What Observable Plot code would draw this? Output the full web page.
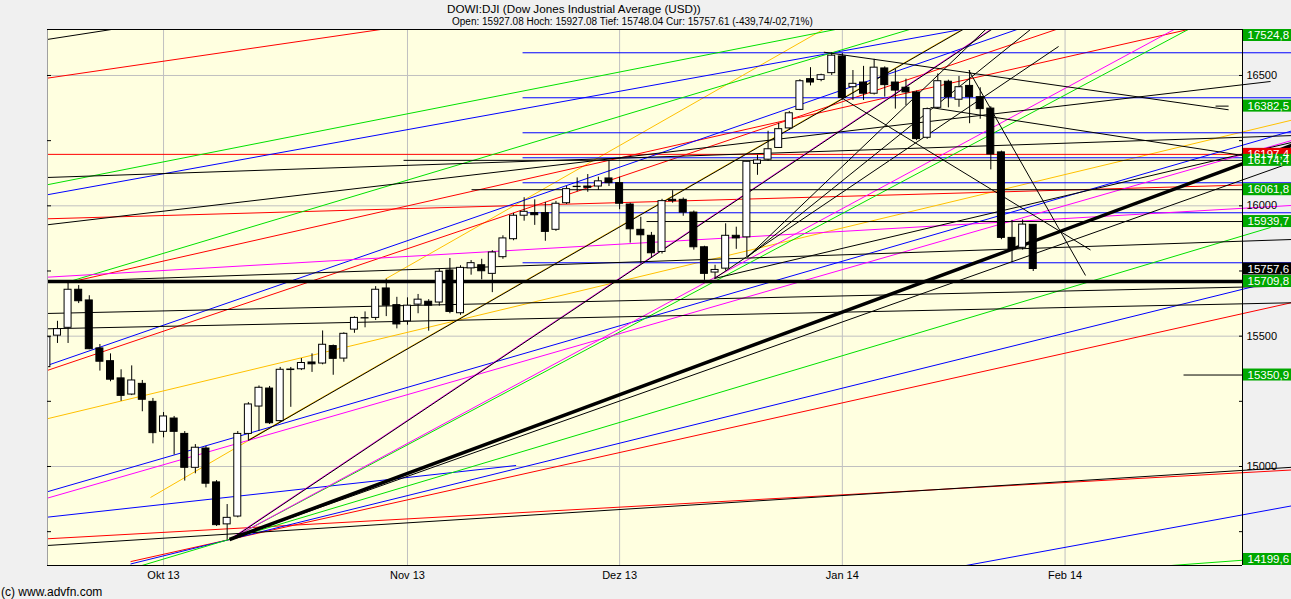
<!DOCTYPE html>
<html>
<head>
<meta charset="utf-8">
<script src="https://cdn.jsdelivr.net/npm/d3@7"></script>
<script src="https://cdn.jsdelivr.net/npm/@observablehq/plot@0.6"></script>
<style>
  html, body { margin: 0; padding: 0; background: #f0f0f0; width: 1291px; height: 599px; overflow: hidden; }
  #wrap { position: relative; width: 1291px; height: 599px; font-family: "Liberation Sans", Arial, sans-serif; }
  #wrap svg { position: absolute; left: 0; top: 0; }
  .t { position: absolute; white-space: nowrap; color: #000; z-index: 2; }
</style>
</head>
<body>
<div id="wrap">
  <div class="t" style="left:447px; top:2px; font-size:11.7px;">DOWI:DJI (Dow Jones Industrial Average (USD))</div>
  <div class="t" style="left:452px; top:16px; font-size:10px;">Open: 15927.08 Hoch: 15927.08 Tief: 15748.04 Cur: 15757.61 (-439,74/-02,71%)</div>
  <div class="t" style="left:1px; top:585px; font-size:12px;">(c) www.advfn.com</div>
</div>
<script>
// ---- Daily sessions (trading days) ----
const dates = [
  "2013-09-16","2013-09-17","2013-09-18","2013-09-19","2013-09-20","2013-09-23","2013-09-24","2013-09-25","2013-09-26","2013-09-27","2013-09-30",
  "2013-10-01","2013-10-02","2013-10-03","2013-10-04","2013-10-07","2013-10-08","2013-10-09","2013-10-10","2013-10-11","2013-10-14","2013-10-15",
  "2013-10-16","2013-10-17","2013-10-18","2013-10-21","2013-10-22","2013-10-23","2013-10-24","2013-10-25","2013-10-28","2013-10-29","2013-10-30","2013-10-31",
  "2013-11-01","2013-11-04","2013-11-05","2013-11-06","2013-11-07","2013-11-08","2013-11-11","2013-11-12","2013-11-13","2013-11-14","2013-11-15",
  "2013-11-18","2013-11-19","2013-11-20","2013-11-21","2013-11-22","2013-11-25","2013-11-26","2013-11-27","2013-11-29",
  "2013-12-02","2013-12-03","2013-12-04","2013-12-05","2013-12-06","2013-12-09","2013-12-10","2013-12-11","2013-12-12","2013-12-13",
  "2013-12-16","2013-12-17","2013-12-18","2013-12-19","2013-12-20","2013-12-23","2013-12-24","2013-12-26","2013-12-27","2013-12-30","2013-12-31",
  "2014-01-02","2014-01-03","2014-01-06","2014-01-07","2014-01-08","2014-01-09","2014-01-10","2014-01-13","2014-01-14","2014-01-15",
  "2014-01-16","2014-01-17","2014-01-21","2014-01-22","2014-01-23","2014-01-24","2014-01-27","2014-01-28","2014-01-29"
];
const open = [
  15381,15502,15532,15678,15637,15453,15404,15338,15276,15317,15248,
  15133,15184,15125,14995,15069,14939,14778,14808,15125,15230,15299,
  15174,15370,15373,15399,15395,15462,15414,15525,15569,15570,15683,15619,
  15557,15621,15632,15629,15752,15588,15760,15772,15739,15803,15872,
  15962,15972,15972,15908,16010,16072,16074,16074,16105,
  16087,16005,15908,15885,15823,16023,16023,15974,15841,15744,
  15759,15885,15879,16161,16177,16222,16297,16368,16486,16483,16509,
  16573,16455,16473,16430,16527,16473,16453,16435,16261,16376,
  16476,16407,16460,16417,16373,16205,15877,15839,15927.08
];
const high = [
  15511,15557,15711,15694,15655,15468,15432,15371,15386,15330,15261,
  15207,15192,15134,15084,15077,14946,14854,15134,15245,15309,15307,
  15380,15380,15414,15432,15520,15466,15513,15574,15593,15690,15718,15649,
  15647,15660,15640,15756,15798,15770,15790,15795,15828,15885,15971,
  16031,16023,16013,16017,16074,16107,16120,16110,16174.4,
  16110,16010,15956,15898,16025,16058,16030,15980,15845,15772,
  15931,15918,16170,16194,16286,16317,16362,16484,16530,16505,16587,
  16584,16519,16535,16562,16533,16524,16486,16440,16375,16506,
  16482,16496,16519,16453,16380,16210,15944,15946,15927.08
];
const low = [
  15376,15472,15472,15625,15448,15366,15325,15250,15272,15210,15087,
  15110,15044,14944,14972,14918,14770,14719,14803,15100,15135,15161,
  15169,15227,15368,15361,15390,15350,15400,15511,15532,15560,15575,15528,
  15542,15586,15519,15615,15586,15580,15734,15716,15667,15795,15866,
  15941,15925,15864,15902,16005,16054,16052,16059,16074,
  15985,15857,15777,15800,15815,16010,15960,15830,15714,15721,
  15750,15833,15803,16117,16170,16220,16290,16365,16460,16476,16500,
  16405,16404,16404,16425,16417,16371,16384,16250,16255,16370,
  16376,16378,16315,16332,16138,15870,15782,15830,15748.04
];
const close = [
  15496,15527,15678,15634,15450,15402,15333,15271,15330,15256,15128,
  15192,15133,14995,15072,14934,14775,14803,15125,15238,15302,15166,
  15371,15372,15397,15392,15467,15413,15509,15570,15568,15678,15617,15545,
  15617,15640,15617,15747,15593,15762,15780,15749,15821,15875,15962,
  15977,15964,15900,16008,16064,16073,16069,16094,16087,
  16008,15910,15887,15818,16018,16018,15974,15841,15739,15754,
  15885,15875,16169,16174,16217,16294,16355,16478,16473,16501,16576,
  16414,16468,16430,16530,16463,16442,16435,16256,16371,16478,
  16417,16455,16417,16371,16197,15877,15834,15928,15757.61
];

// ---- Axis ticks ----
const monthLabels = ["Okt 13", "Nov 13", "Dez 13", "Jan 14", "Feb 14"];
const monthSessions = [0, 23, 43, 64, 85];          // first session of each month (Oct 1 = 0)
const priceTicks = [15000, 15500, 16000, 16500];
const minorTicks = [14750, 15000, 15250, 15500, 15750, 16000, 16250, 16500];

// ---- Trend lines: [session1, price1, session2, price2] ----
const blackLines = [
  [-10.97, 16638.1, 3.49, 16729.4],
  [-10.97, 16108.7, 106.36, 16269.4],
  [-10.97, 15927.2, 104.38, 16477.0],
  [-10.97, 15707.8, 106.36, 15870.8],
  [-10.97, 15587.0, 106.36, 15692.4],
  [-10.97, 15528.2, 106.36, 15628.0],
  [-10.97, 14696.9, 106.36, 14996.9],
  [6.22, 14719.9, 106.36, 16166.2],
  [55.04, 15802.9, 78.92, 16730.9],
  [55.04, 15802.9, 83.16, 16722.9],
  [51.95, 15721.2, 84.39, 16611.2],
  [51.95, 15721.2, 106.36, 16243.0],
  [62.26, 16589.4, 100.42, 16368.4],
  [63.83, 16416.7, 87.40, 15830.5],
  [75.93, 16519.2, 86.93, 15732.7],
  [72.32, 16377.2, 101.74, 16193.1],
  [96.17, 15350.9, 101.74, 15350.9],
  [99.19, 16382.5, 100.42, 16382.5]
];
const blackLevels = [[22.63, 16174.4], [29.04, 16061.8], [45.54, 15939.7]];
const thickLines = [
  [6.22, 14719.9, 106.36, 16231.4],
  [-10.97, 15709.8, 101.74, 15709.8]
];
const redLines = [
  [-10.97, 16489.6, 24.23, 16698.7],
  [-10.97, 16197.4, 101.74, 16197.4],
  [-10.97, 15950.2, 106.36, 16084.9],
  [-9.08, 15704.7, 102.49, 16730.5],
  [-10.97, 15368.3, 88.35, 16734.0],
  [-3.11, 14635.1, 106.36, 15628.4],
  [-10.97, 14722.6, 106.36, 14986.6]
];
const blueLines = [
  [-10.97, 16042.3, 78.92, 16703.7],
  [-10.97, 15387.5, 83.63, 16721.0],
  [-10.97, 14902.9, 106.36, 16287.1],
  [-10.97, 14805.5, 33.24, 15003.8],
  [-3.11, 14625.9, 106.36, 15726.2],
  [69.49, 14574.2, 106.36, 14848.9]
];
const blueLevels = [16587.1, 16414.5, 16280.2, 16184.3, 16088.4, 15973.3, 15781.5];
const blueLevelStart = 33.85;
const greenLines = [
  [-10.97, 16080.7, 69.49, 16725.6],
  [-9.08, 15707.0, 74.20, 16723.6],
  [6.22, 14719.9, 99.66, 16742.4],
  [-3.11, 14607.1, 104.38, 15916.9],
  [88.35, 14600.2, 106.36, 14654.3]
];
const magentaLines = [
  [-10.97, 15726.2, 106.36, 16001.3],
  [-10.97, 14878.4, 106.36, 16250.6],
  [6.22, 14719.9, 97.78, 16731.3],
  [6.22, 14719.9, 79.86, 16727.5]
];
const orangeLines = [
  [-10.97, 15183.0, 106.36, 16328.5],
  [-1.23, 14881.1, 13.86, 15237.9],
  [20.93, 15719.3, 64.78, 16736.3],
  [7.89, 15099.7, 77.98, 16739.4]
];
// lines drawn as a black stroke doubled beside a coloured one
const pairedBlack = [
  [6.22, 14719.9, 79.86, 16727.5],
  [7.89, 15099.7, 77.98, 16739.4]
];

// ---- Price tags on the right scale ----
const tagValues = [16197.4, 17524.8, 16382.5, 16174.4, 16061.8, 15939.7, 15757.6, 15709.8, 15350.9, 14199.6];
const tagKinds  = ["red", "green", "green", "green", "green", "green", "last", "green", "green", "green"];

// ---- Layout ----
const W = 1291, H = 599, mL = 47, mR = 49, mT = 29, mB = 34;
const xDomain = [-10.94, 101.73];
const yDomain = [14620.2, 16676.4];
const sessPerPx = (xDomain[1] - xDomain[0]) / (W - mL - mR);
const ptsPerPx = (yDomain[1] - yDomain[0]) / (H - mT - mB);
const xEdge = xDomain[1] + mR * sessPerPx;

const sessionOffset = dates.indexOf("2013-10-01");
const candles = dates.map((d, i) => ({
  date: d, session: i - sessionOffset,
  open: open[i], high: high[i], low: low[i], close: close[i]
}));
const half = 0.33;

const levels = (arr, start) => arr.map(v => [start, v, xEdge, v]);
const seg = (stroke, strokeWidth = 1, extra = {}) => ({
  x1: d => d[0], y1: d => d[1], x2: d => d[2], y2: d => d[3],
  stroke, strokeWidth, ...extra
});

const fmt = v => v.toFixed(1).replace(".", ",");
const tagHalf = 6 * ptsPerPx;
const tags = tagValues.map((v, i) => {
  const c = Math.max(yDomain[0] + tagHalf, Math.min(yDomain[1] - tagHalf, v));
  return {value: v, c, kind: tagKinds[i]};
});
const tagFill = {green: "#00a800", red: "#e80000", last: "#000000"};

const GREEN = "#00e000", BLUE = "#0000ff", RED = "#ff0000", MAGENTA = "#ff00ff", ORANGE = "#ffc000";

const svg = Plot.plot({
  width: W, height: H,
  marginLeft: mL, marginRight: mR, marginTop: mT, marginBottom: mB,
  x: {domain: xDomain, axis: null},
  y: {domain: yDomain, axis: null},
  style: {background: "transparent", fontFamily: "Liberation Sans, Arial, sans-serif", fontSize: "11px", overflow: "visible"},
  marks: [
    Plot.frame({fill: "#ffffe0", stroke: "none"}),
    Plot.ruleY(priceTicks, {stroke: "#c0c0c0"}),
    Plot.ruleX(monthSessions, {stroke: "#c0c0c0"}),

    // trend lines
    Plot.link(orangeLines, seg(ORANGE)),
    Plot.link(redLines, seg(RED)),
    Plot.link(blueLines, seg(BLUE)),
    Plot.link(levels(blueLevels, blueLevelStart), seg(BLUE)),
    Plot.link(greenLines, seg(GREEN)),
    Plot.link(magentaLines, seg(MAGENTA)),
    Plot.link(pairedBlack, seg("#000", 1, {dx: 1})),
    Plot.link(blackLines, seg("#000")),
    Plot.link(blackLevels.map(([s, v]) => [s, v, xEdge, v]), seg("#000")),
    Plot.link(thickLines, seg("#000", 3.5)),

    // candlesticks
    Plot.ruleX(candles, {x: "session", y1: "low", y2: "high", stroke: "#000", clip: true}),
    Plot.rect(candles, {
      x1: d => d.session - half, x2: d => d.session + half,
      y1: "open", y2: "close",
      fill: d => d.close >= d.open ? "#fff" : "#000",
      stroke: "#000", strokeWidth: 1, clip: true
    }),

    // frame edges
    Plot.ruleX([xDomain[0]], {stroke: "#a0a0a0"}),
    Plot.ruleY([yDomain[1]], {stroke: "#000"}),
    Plot.ruleY([yDomain[0]], {stroke: "#000"}),
    Plot.ruleX([xDomain[1]], {stroke: "#000"}),

    // scale ticks on both edges
    Plot.ruleY(minorTicks, {x1: xDomain[0], x2: xDomain[0] + 4 * sessPerPx, stroke: "#000"}),
    Plot.ruleY(minorTicks, {x1: xDomain[1] - 3 * sessPerPx, x2: xDomain[1], stroke: "#000"}),

    // price scale labels
    Plot.text(priceTicks, {x: xDomain[1], y: d => d, text: d => String(d), textAnchor: "start", dx: 4, fill: "#000", fontSize: 11}),

    // price tags
    Plot.rect(tags, {
      x1: xDomain[1], x2: xEdge, y1: d => d.c - tagHalf, y2: d => d.c + tagHalf,
      fill: d => tagFill[d.kind], insetLeft: 1
    }),
    Plot.text(tags, {x: xDomain[1], y: "c", text: d => fmt(d.value), textAnchor: "start", dx: 5, fill: "#fff", fontSize: 11.5}),

    // month labels
    Plot.text(monthSessions, {x: d => d, y: yDomain[0], text: (d, i) => monthLabels[i], dy: 10, fill: "#000", fontSize: 11})
  ]
});

// trend lines run past the right scale but stop at the top, left and bottom frame
const ns = "http://www.w3.org/2000/svg";
const defs = document.createElementNS(ns, "defs");
const cp = document.createElementNS(ns, "clipPath");
cp.setAttribute("id", "trend-clip");
const r = document.createElementNS(ns, "rect");
r.setAttribute("x", mL); r.setAttribute("y", mT);
r.setAttribute("width", W - mL); r.setAttribute("height", H - mT - mB);
cp.appendChild(r); defs.appendChild(cp);
svg.insertBefore(defs, svg.firstChild);
svg.querySelectorAll('g[aria-label="link"]').forEach(g => g.setAttribute("clip-path", "url(#trend-clip)"));

document.getElementById("wrap").insertBefore(svg, document.getElementById("wrap").firstChild);
</script>
</body>
</html>
